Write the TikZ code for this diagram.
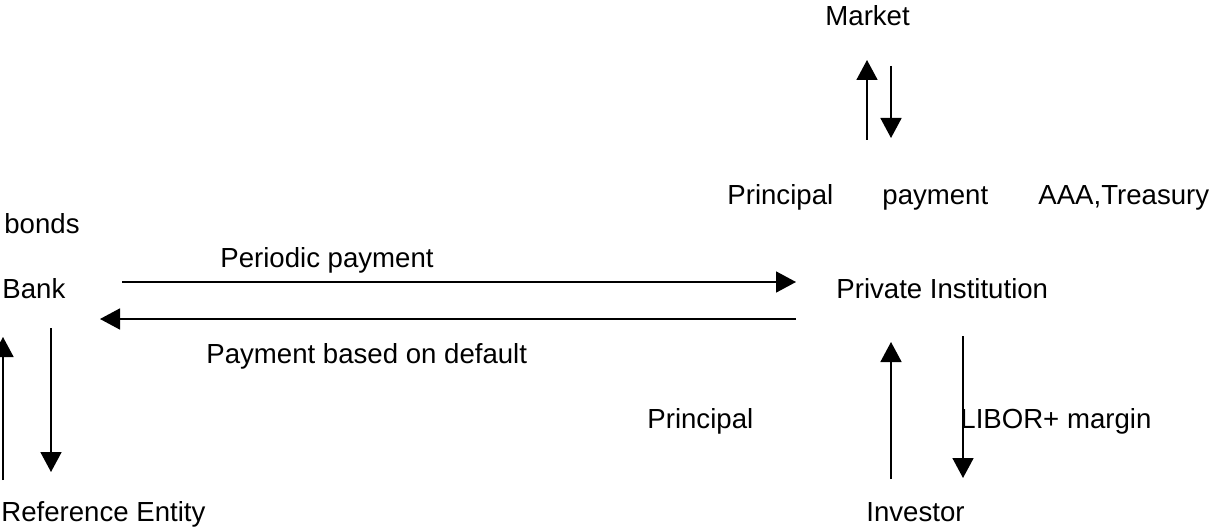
\documentclass[tikz,border=0pt]{standalone}
\usepackage{fontspec}
\setmainfont{Liberation Sans}
\usetikzlibrary{arrows.meta}
\begin{document}
\begin{tikzpicture}[x=0.5pt,y=-0.5pt,
  lbl/.style={anchor=base west,inner sep=0pt,font=\fontsize{13.8}{16}\selectfont},
  flow/.style={line width=0.85pt,-{Triangle[length=10pt,width=10.5pt]}}]
\useasboundingbox (0,0) rectangle (1213,529);
% texts
\node[lbl] (market) at (825,26) {Market};
\node[lbl] (princ1) at (727,205) {Principal};
\node[lbl] (paym) at (882,205) {payment};
\node[lbl] (aaa) at (1038,205) {AAA,Treasury};
\node[lbl] (bonds) at (4,233) {bonds};
\node[lbl] (periodic) at (220,267) {Periodic payment};
\node[lbl] (bank) at (2,298) {Bank};
\node[lbl] (pi) at (836,298) {Private Institution};
\node[lbl] (pbd) at (206,363) {Payment based on default};
\node[lbl] (princ2) at (647,428) {Principal};
\node[lbl] (libor) at (960,428) {LIBOR+ margin};
\node[lbl] (ref) at (1,521) {Reference Entity};
\node[lbl] (inv) at (866,521) {Investor};
% coordinates
\coordinate (mu1) at (867,140); \coordinate (mu2) at (867,60);
\coordinate (md1) at (891,66);  \coordinate (md2) at (891,138);
\coordinate (h1a) at (122,282); \coordinate (h1b) at (796,282);
\coordinate (h2a) at (796,319); \coordinate (h2b) at (100,319);
\coordinate (lu1) at (3,480);   \coordinate (lu2) at (3,337);
\coordinate (ld1) at (51,328);  \coordinate (ld2) at (51,472);
\coordinate (ru1) at (891,479); \coordinate (ru2) at (891,342);
\coordinate (rd1) at (963,336); \coordinate (rd2) at (963,478);
% arrows
\draw[flow] (mu1) -- (mu2);
\draw[flow] (md1) -- (md2);
\draw[flow] (h1a) -- (h1b);
\draw[flow] (h2a) -- (h2b);
\draw[flow] (lu1) -- (lu2);
\draw[flow] (ld1) -- (ld2);
\draw[flow] (ru1) -- (ru2);
\draw[flow] (rd1) -- (rd2);
\end{tikzpicture}
\end{document}
